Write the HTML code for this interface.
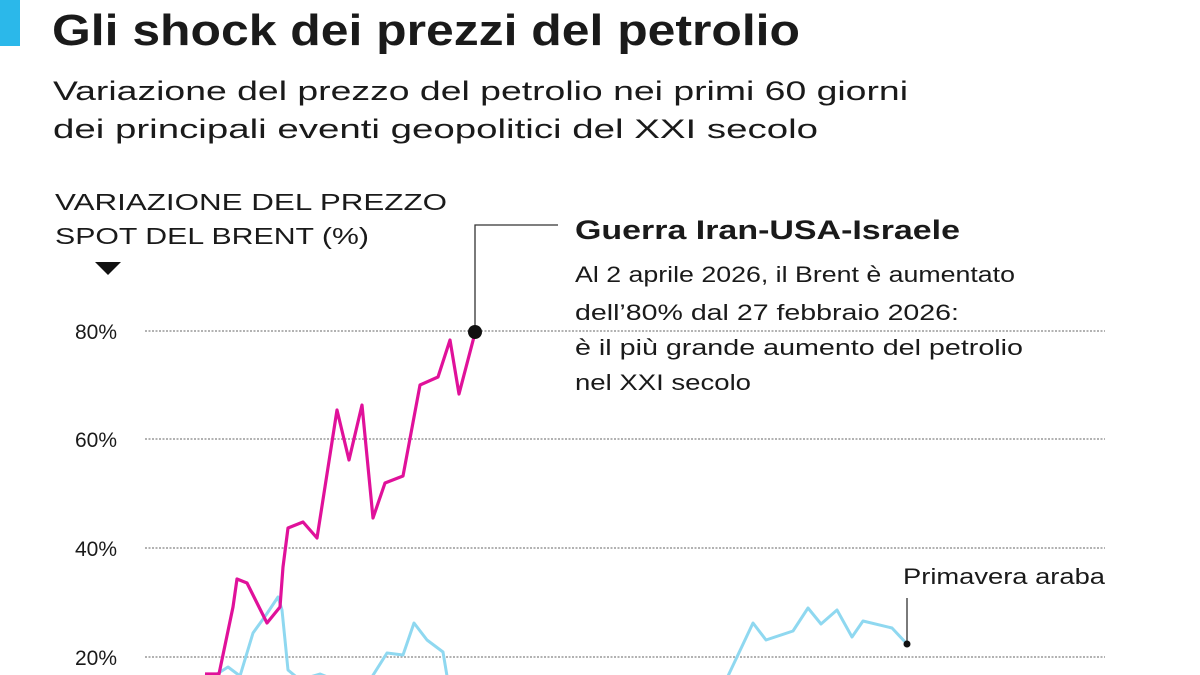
<!DOCTYPE html>
<html><head><meta charset="utf-8"><style>
body{margin:0;background:#fff;width:1200px;height:675px;overflow:hidden}
svg{display:block}
text{font-family:"Liberation Sans",sans-serif;fill:#1a1a1a}
</style></head><body>
<svg width="1200" height="675" viewBox="0 0 1200 675">
<rect x="0" y="0" width="20" height="46" fill="#2bb8ea"/>
<text x="52" y="45" font-size="44" font-weight="bold" textLength="748" lengthAdjust="spacingAndGlyphs" fill="#000">Gli shock dei prezzi del petrolio</text>
<text x="53" y="100" font-size="27" textLength="855" lengthAdjust="spacingAndGlyphs" fill="#333">Variazione del prezzo del petrolio nei primi 60 giorni</text>
<text x="53" y="138" font-size="27" textLength="765" lengthAdjust="spacingAndGlyphs" fill="#333">dei principali eventi geopolitici del XXI secolo</text>
<text x="55" y="210" font-size="23" textLength="392" lengthAdjust="spacingAndGlyphs" fill="#333">VARIAZIONE DEL PREZZO</text>
<text x="55" y="244" font-size="23" textLength="314" lengthAdjust="spacingAndGlyphs" fill="#333">SPOT DEL BRENT (%)</text>
<polygon points="95,262 121,262 108,275" fill="#111"/>
<g stroke="#999" stroke-width="1.5" stroke-dasharray="2,1.5">
<line x1="145" y1="331" x2="1105" y2="331"/>
<line x1="145" y1="439" x2="1105" y2="439"/>
<line x1="145" y1="548" x2="1105" y2="548"/>
<line x1="145" y1="657" x2="1105" y2="657"/>
</g>
<g font-size="21" fill="#333">
<text x="75" y="339">80%</text><text x="75" y="447">60%</text><text x="75" y="556">40%</text><text x="75" y="665">20%</text>
</g>
<g fill="none" stroke="#8fd8f0" stroke-width="3" stroke-linejoin="round">
<polyline points="205,676 217,674 228,667 240,676 253,633 266,615 278,597 282,610 288,670 300,680 320,674 335,680 370,680 387,653 403,655 414,623 427,640 443,652 447,676"/>
<polyline points="728,676 753,623 766,640 793,631 808,608 821,624 837,610 852,637 863,621 892,628 907,644"/>
</g>
<polyline fill="none" stroke="#e0119a" stroke-width="3.2" stroke-linejoin="round" points="205,674 219,674 233,607 237,579 247,583 267,623 280,607 283,567 288,528 303,522 317,538 337,410 349,460 362,405 373,518 385,483 403,476 420,385 438,377 450,340 459,394 475,333"/>
<polyline fill="none" stroke="#333" stroke-width="1.3" points="475,332 475,225 558,225"/>
<circle cx="475" cy="332" r="7" fill="#111"/>
<line x1="907" y1="643" x2="907" y2="598" stroke="#333" stroke-width="1.3"/>
<circle cx="907" cy="644" r="3.5" fill="#111"/>
<text x="575" y="239" font-size="27" font-weight="bold" textLength="385" lengthAdjust="spacingAndGlyphs" fill="#000">Guerra Iran-USA-Israele</text>
<g font-size="22" fill="#222">
<text x="575" y="282" textLength="440" lengthAdjust="spacingAndGlyphs">Al 2 aprile 2026, il Brent è aumentato</text>
<text x="575" y="320" textLength="384" lengthAdjust="spacingAndGlyphs">dell’80% dal 27 febbraio 2026:</text>
<text x="575" y="355" textLength="448" lengthAdjust="spacingAndGlyphs">è il più grande aumento del petrolio</text>
<text x="575" y="390" textLength="176" lengthAdjust="spacingAndGlyphs">nel XXI secolo</text>
<text x="903" y="584" textLength="202" lengthAdjust="spacingAndGlyphs">Primavera araba</text>
</g>
</svg>
</body></html>
